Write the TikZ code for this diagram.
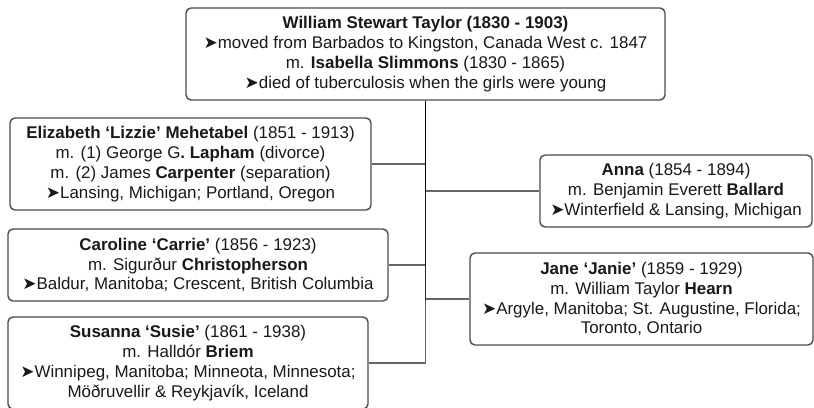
\documentclass[tikz,border=0pt]{standalone}
\usepackage{fontspec}
\setmainfont{Liberation Sans}
\newfontfamily\symf{DejaVu Sans}
\newcommand\arr{{\symf ➤}}
\begin{document}
\begin{tikzpicture}[x=1bp,y=-1bp,
  person/.style={draw=black!70, line width=1.4bp, rounded corners=5bp, fill=white,
    inner sep=0pt, align=center, font=\fontsize{17}{20}\selectfont, text=black!90},
  link/.style={draw=black, line width=1.8bp, opacity=0.6}]
\useasboundingbox (0,0) rectangle (814,407);
\node[person, minimum width=479bp, minimum height=92bp] (top) at (425.5,54)
  {\textbf{William Stewart Taylor (1830 - 1903)}\\
   \arr moved from Barbados to Kingston, Canada West c. 1847\\
   m. \textbf{Isabella Slimmons} (1830 - 1865)\\
   \arr died of tuberculosis when the girls were young};
\node[person, minimum width=361bp, minimum height=92bp] (lizzie) at (190.5,164)
  {\textbf{Elizabeth ‘Lizzie’ Mehetabel} (1851 - 1913)\\
   m. (1) George G\textbf{. Lapham} (divorce)\\
   m. (2) James \textbf{Carpenter} (separation)\\
   \arr Lansing, Michigan; Portland, Oregon};
\node[person, minimum width=380bp, minimum height=72bp] (carrie) at (198,265)
  {\textbf{Caroline ‘Carrie’} (1856 - 1923)\\
   m. Sigurður \textbf{Christopherson}\\
   \arr Baldur, Manitoba; Crescent, British Columbia};
\node[person, minimum width=360bp, minimum height=92bp] (susie) at (188,363)
  {\textbf{Susanna ‘Susie’} (1861 - 1938)\\
   m. Halldór \textbf{Briem}\\
   \arr Winnipeg, Manitoba; Minneota, Minnesota;\\
   Möðruvellir \& Reykjavík, Iceland};
\node[person, minimum width=272bp, minimum height=72bp] (anna) at (676,191)
  {\textbf{Anna} (1854 - 1894)\\
   m. Benjamin Everett \textbf{Ballard}\\
   \arr Winterfield \& Lansing, Michigan};
\node[person, minimum width=343bp, minimum height=92bp] (jane) at (641.5,299)
  {\textbf{Jane ‘Janie’} (1859 - 1929)\\
   m. William Taylor \textbf{Hearn}\\
   \arr Argyle, Manitoba; St. Augustine, Florida;\\
   Toronto, Ontario};
\draw[link] (top.south) |- (lizzie.east);
\draw[link] (top.south) |- (anna.west);
\draw[link] (top.south) |- (carrie.east);
\draw[link] (top.south) |- (jane.west);
\draw[link] (top.south) |- (susie.east);
\end{tikzpicture}
\end{document}
